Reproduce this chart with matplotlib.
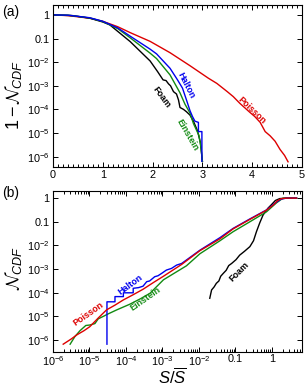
import numpy as np
import matplotlib
matplotlib.use("Agg")
import matplotlib.pyplot as plt
from matplotlib.ticker import FixedLocator, MultipleLocator, LogLocator, NullFormatter, FuncFormatter

plt.rcParams['font.family'] = ['Liberation Sans', 'DejaVu Sans']
plt.rcParams['mathtext.fontset'] = 'custom'
plt.rcParams['mathtext.rm'] = 'Liberation Sans'
plt.rcParams['mathtext.it'] = 'Liberation Sans:italic'
plt.rcParams['mathtext.bf'] = 'Liberation Sans:bold'
plt.rcParams['mathtext.cal'] = 'cmsy10'

# ---------------- data: panel (a)  1 - N_CDF vs S/S (log10 of y) ----------------
pois_a_x = [0, 0.3, 0.74, 1.0, 1.3, 1.55, 1.95, 2.35, 2.75, 3.12, 3.29, 3.5, 3.62, 3.75, 3.95, 4.05,
            4.16, 4.26, 4.36, 4.46, 4.56, 4.65, 4.72]
pois_a_y = [0, -0.03, -0.14, -0.27, -0.5, -0.75, -1.12, -1.6, -2.15, -2.68, -2.9, -3.25, -3.46, -3.74,
            -4.12, -4.3, -4.55, -4.94, -5.12, -5.35, -5.7, -5.95, -6.22]

halt_a_x = [0, 0.3, 0.74, 1.0, 1.3, 1.55, 1.95, 2.08, 2.35, 2.5, 2.6, 2.68, 2.75, 2.8, 2.85, 2.92,
            2.92, 2.99, 2.99]
halt_a_y = [0, -0.01, -0.12, -0.27, -0.55, -0.9, -1.45, -1.65, -2.26, -2.75, -3.1, -3.6, -4.05, -4.3,
            -4.5, -4.55, -4.94, -4.94, -6.2]

eins_a_x = [0, 0.3, 0.74, 1.0, 1.3, 1.55, 1.95, 2.08, 2.35, 2.55, 2.65, 2.75, 2.82, 2.93, 2.97, 3.0]
eins_a_y = [0, -0.01, -0.13, -0.28, -0.58, -0.97, -1.62, -1.85, -2.54, -3.3, -3.78, -4.15, -4.6, -5.1,
            -5.6, -6.2]

foam_a_x = [0, 0.4, 0.74, 1.0, 1.14, 1.55, 1.95, 2.1, 2.21, 2.27, 2.32, 2.36, 2.42, 2.48, 2.52, 2.55,
            2.62, 2.68, 2.75, 2.82, 2.9, 2.96, 3.0]
foam_a_y = [0, -0.03, -0.14, -0.3, -0.42, -1.13, -1.95, -2.4, -2.75, -2.78, -2.92, -3.0, -3.25, -3.35,
            -3.6, -3.92, -4.0, -4.1, -4.24, -4.5, -4.9, -5.4, -6.2]

# ---------------- data: panel (b)  N_CDF vs S/S (log10 of x and y) ----------------
pois_b_x = [-5.72, -5.5, -5.35, -5.15, -4.99, -4.75, -4.53, -4.3, -4.07, -3.8, -3.53, -3.25, -2.97,
            -2.47, -1.97, -1.42, -1.06, -0.6, -0.145, 0.05, 0.15, 0.25, 0.4, 0.68]
pois_b_y = [-6.17, -5.95, -5.78, -5.6, -5.43, -5.05, -4.72, -4.52, -4.3, -4.08, -3.85, -3.57, -3.3,
            -2.8, -2.22, -1.72, -1.3, -0.9, -0.51, -0.28, -0.12, -0.03, 0.0, 0.0]

eins_b_x = [-5.53, -5.4, -5.26, -5.1, -4.99, -4.85, -4.76, -4.6, -4.5, -4.25, -3.89, -3.6, -3.34,
            -2.97, -2.34, -1.97, -1.42, -1.06, -0.6, -0.145, 0.13, 0.31, 0.68]
eins_b_y = [-6.17, -5.85, -5.6, -5.38, -5.36, -5.3, -5.1, -4.98, -4.9, -4.72, -4.48, -4.25, -4.02,
            -3.45, -2.86, -2.35, -1.8, -1.42, -1.0, -0.58, -0.2, 0.0, 0.0]

halt_b_x = [-4.52, -4.52, -4.30, -4.30, -4.07, -4.07, -3.80, -3.80, -3.65, -3.53, -3.43, -3.35,
            -3.21, -3.12, -3.02, -2.89, -2.75, -2.61, -2.47, -1.97, -1.42, -1.06, -0.6, -0.145,
            0.1, 0.25, 0.4, 0.68]
halt_b_y = [-6.17, -4.38, -4.38, -4.16, -4.16, -4.0, -4.0, -3.81, -3.78, -3.72, -3.53, -3.5, -3.32,
            -3.28, -3.18, -3.04, -2.97, -2.83, -2.76, -2.2, -1.67, -1.28, -0.88, -0.5, -0.2,
            -0.05, 0.0, 0.0]

foam_b_x = [-1.70, -1.65, -1.58, -1.52, -1.45, -1.4, -1.33, -1.25, -1.18, -1.10, -0.98, -0.88,
            -0.75, -0.6, -0.5, -0.42, -0.33, -0.24, -0.1, -0.01, 0.1, 0.22, 0.4, 0.68]
foam_b_y = [-4.23, -3.88, -3.75, -3.6, -3.5, -3.3, -3.18, -3.05, -2.85, -2.76, -2.6, -2.41,
            -2.25, -2.05, -1.8, -1.42, -1.05, -0.72, -0.42, -0.28, -0.1, -0.02, 0.0, 0.0]

names = ['Poisson', 'Halton', 'Einstein', 'Foam']
colors = {'Poisson': '#dd0000', 'Halton': '#0000ee', 'Einstein': '#128a12', 'Foam': '#000000'}

ytick_exp = [0, -1, -2, -3, -4, -5, -6]
xtick_exp_b = [-6, -5, -4, -3, -2, -1, 0]


def dec_label(v, pos=None):
    e = int(round(np.log10(v)))
    if e == 0:
        return '1'
    if e == -1:
        return '0.1'
    return r'$\mathregular{10^{%d}}$' % e


W, H = 305, 388
fig = plt.figure(figsize=(W / 100, H / 100), dpi=100)
axa = fig.add_axes([53 / W, 1 - 167 / H, 249 / W, 162 / H])
axb = fig.add_axes([53 / W, 1 - 352 / H, 249 / W, 161 / H])

lw = 1.0
p = lambda a: 10 ** np.asarray(a)

# panel (a)
axa.plot(pois_a_x, p(pois_a_y), color=colors['Poisson'], lw=lw)
axa.plot(foam_a_x, p(foam_a_y), color=colors['Foam'], lw=lw)
axa.plot(eins_a_x, p(eins_a_y), color=colors['Einstein'], lw=lw)
axa.plot(halt_a_x, p(halt_a_y), color=colors['Halton'], lw=lw)
axa.set_yscale('log')
axa.set_xlim(0, 5)
axa.set_ylim(10 ** -6.44, 10 ** 0.42)
axa.xaxis.set_major_locator(MultipleLocator(1))
axa.xaxis.set_minor_locator(MultipleLocator(0.1))
axa.yaxis.set_major_locator(FixedLocator([10.0 ** e for e in ytick_exp]))
axa.yaxis.set_minor_locator(FixedLocator([]))
axa.yaxis.set_major_formatter(FuncFormatter(dec_label))

# panel (b)
axb.plot(p(foam_b_x), p(foam_b_y), color=colors['Foam'], lw=lw)
axb.plot(p(eins_b_x), p(eins_b_y), color=colors['Einstein'], lw=lw)
axb.plot(p(halt_b_x), p(halt_b_y), color=colors['Halton'], lw=lw)
axb.plot(p(pois_b_x), p(pois_b_y), color=colors['Poisson'], lw=lw)
axb.set_xscale('log')
axb.set_yscale('log')
axb.set_xlim(1e-6, 10 ** 0.83)
axb.set_ylim(10 ** -6.5, 10 ** 0.3)
axb.xaxis.set_major_locator(FixedLocator([10.0 ** e for e in xtick_exp_b]))
axb.xaxis.set_minor_locator(LogLocator(base=10, subs=np.arange(2, 10), numticks=20))
axb.xaxis.set_minor_formatter(NullFormatter())
axb.xaxis.set_major_formatter(FuncFormatter(dec_label))
axb.yaxis.set_major_locator(FixedLocator([10.0 ** e for e in ytick_exp]))
axb.yaxis.set_minor_locator(FixedLocator([]))
axb.yaxis.set_major_formatter(FuncFormatter(dec_label))

for ax in (axa, axb):
    ax.tick_params(which='both', direction='in', top=True, right=True, labelsize=7.8,
                   width=0.7, pad=2.5)
    ax.tick_params(which='major', length=3.5)
    ax.tick_params(which='minor', length=2)
    for s in ax.spines.values():
        s.set_linewidth(0.8)
axb.tick_params(axis='x', which='both', pad=1.5)

# curve labels
lab_kw = dict(fontsize=6.5, fontweight='bold', ha='center', va='center', rotation_mode='anchor')
axa.text(3.99, 10 ** -4.03, 'Poisson', color=colors['Poisson'], rotation=-44, **lab_kw)
axa.text(2.67, 10 ** -3.0, 'Halton', color=colors['Halton'], rotation=-63, **lab_kw)
axa.text(2.70, 10 ** -5.08, 'Einstein', color=colors['Einstein'], rotation=-60, **lab_kw)
axa.text(2.18, 10 ** -3.49, 'Foam', color=colors['Foam'], rotation=-54, **lab_kw)

axb.text(10 ** -5.03, 10 ** -4.91, 'Poisson', color=colors['Poisson'], rotation=35, **lab_kw)
axb.text(10 ** -3.87, 10 ** -3.64, 'Halton', color=colors['Halton'], rotation=36, **lab_kw)
axb.text(10 ** -3.46, 10 ** -4.27, 'Einstein', color=colors['Einstein'], rotation=35, **lab_kw)
axb.text(10 ** -0.9, 10 ** -3.13, 'Foam', color=colors['Foam'], rotation=45, **lab_kw)

# axis labels
fig.text(14 / W, 1 - 95 / H, r'$1-\mathcal{N}_{CDF}$', rotation=90, ha='center', va='center',
         fontsize=13)
fig.text(13 / W, 1 - 268 / H, r'$\mathcal{N}_{CDF}$', rotation=90, ha='center', va='center',
         fontsize=13)
fig.text(172 / W, 1.5 / H, r'$S/\overline{S}$', ha='center', va='bottom', fontsize=12)

fig.text(11 / W, 1 - 12 / H, '(a)', ha='center', va='center', fontsize=10)
fig.text(11 / W, 1 - 193 / H, '(b)', ha='center', va='center', fontsize=10)

fig.savefig('out.png', dpi=100)
